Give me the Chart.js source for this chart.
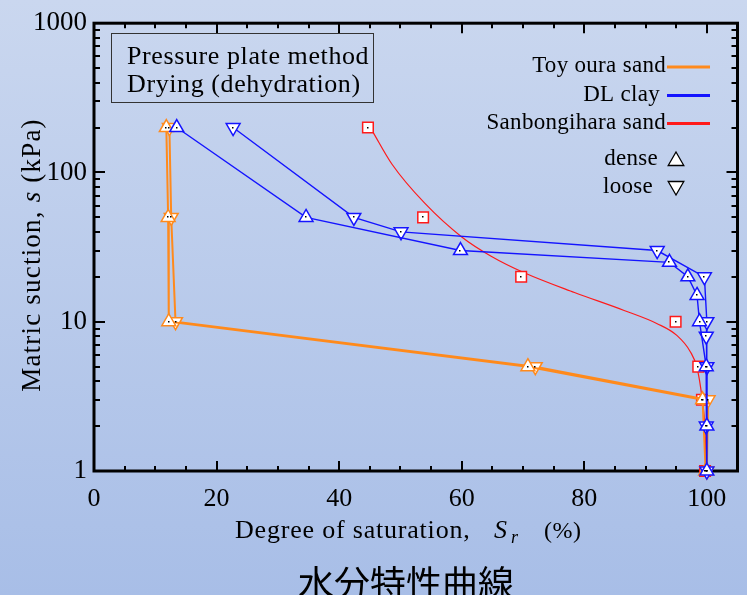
<!DOCTYPE html>
<html>
<head>
<meta charset="utf-8">
<script src="https://cdn.jsdelivr.net/npm/chart.js@4.4.1/dist/chart.umd.min.js"></script>
<style>
  html, body { margin: 0; padding: 0; }
  body {
    width: 747px;
    height: 595px;
    overflow: hidden;
    background: linear-gradient(to bottom, #cad7ef, #a8bee7);
  }
  canvas { display: block; }
</style>
</head>
<body>
<canvas id="chart" width="747" height="595"></canvas>
<script>
/* Soil-water characteristic curves (drying), Sr vs matric suction. */

// Toyoura sand
var srToyouraDense = [11.8, 12.1, 12.2, 70.8, 99.3, 99.8];
var sToyouraDense = [200, 50, 10, 5, 3, 1];
var srToyouraLoose = [12.3, 12.6, 13.3, 72.0, 100.2, 100];
var sToyouraLoose = [200, 50, 10, 5, 3, 1];

// DL clay
var srClayDense = [13.5, 34.6, 59.8, 93.9, 96.9, 98.4, 98.8, 99.9, 100, 100];
var sClayDense = [200, 50, 30, 25, 20, 15, 10, 5, 2, 1];
var srClayLoose = [22.7, 42.4, 50.1, 91.9, 99.6, 100, 99.9, 100, 99.9, 100];
var sClayLoose = [200, 50, 40, 30, 20, 10, 8, 5, 2, 1];

// Sanbongihara sand: measured points and fitted curve
var srSanbongiPoints = [44.7, 53.7, 69.7, 94.9, 98.6, 99.2, 99.7];
var sSanbongiPoints = [200, 50, 20, 10, 5, 3, 1];
var srSanbongiCurve = [45.4, 48.6, 54.0, 60.0, 64.8, 70.2, 78.4, 86.5, 91.9, 95.1, 97.3, 98.4, 99.2, 99.7, 99.9];
var sSanbongiCurve = [190, 114, 62, 37, 27.5, 21.3, 15.7, 11.9, 9.7, 8.1, 6.3, 4.9, 3.1, 1.87, 1];

var xTickLabels = [0, 20, 40, 60, 80, 100];
var yTickLabels = [1, 10, 100, 1000];
var legendNames = ["Toy oura sand", "DL clay", "Sanbongihara sand"];
var densityNames = ["dense", "loose"];
var noteLines = ["Pressure plate method", "Drying (dehydration)"];

var ORANGE = "#ff8a1c";
var BLUE = "#1414ff";
var RED = "#ff1a1a";
var SERIF = '"Liberation Serif", "Times New Roman", serif';

function pairs(xs, ys) {
  return xs.map(function (v, i) { return { x: v, y: ys[i] }; });
}

function markerSet(label, xs, ys, color, width, down) {
  return {
    label: label,
    data: pairs(xs, ys),
    showLine: true,
    borderColor: color,
    borderWidth: width,
    pointStyle: "triangle",
    rotation: down ? 180 : 0,
    pointRadius: 8,
    pointHoverRadius: 8,
    pointBackgroundColor: "#ffffff",
    pointBorderColor: color,
    pointBorderWidth: 1.5,
    clip: false
  };
}

var datasets = [
  markerSet("DL clay dense", srClayDense, sClayDense, BLUE, 1.4, false),
  markerSet("DL clay loose", srClayLoose, sClayLoose, BLUE, 1.4, true),
  markerSet("Toyoura dense", srToyouraDense, sToyouraDense, ORANGE, 2, false),
  markerSet("Toyoura loose", srToyouraLoose, sToyouraLoose, ORANGE, 2, true),
  {
    label: "Sanbongihara points",
    data: pairs(srSanbongiPoints, sSanbongiPoints),
    showLine: false,
    pointStyle: "rect",
    pointRadius: 7.5,
    pointHoverRadius: 7.5,
    pointBackgroundColor: "#ffffff",
    pointBorderColor: RED,
    pointBorderWidth: 1.5,
    clip: false
  },
  {
    label: "Sanbongihara curve",
    data: pairs(srSanbongiCurve, sSanbongiCurve),
    showLine: true,
    borderColor: RED,
    borderWidth: 1.2,
    pointRadius: 0,
    cubicInterpolationMode: "monotone",
    clip: false
  }
];

function triangle(ctx, x, y, r, down) {
  var h = down ? -1 : 1;
  ctx.beginPath();
  ctx.moveTo(x, y - h * r);
  ctx.lineTo(x + r * 0.866, y + h * r * 0.5);
  ctx.lineTo(x - r * 0.866, y + h * r * 0.5);
  ctx.closePath();
  ctx.fillStyle = "#ffffff";
  ctx.fill();
  ctx.strokeStyle = "#000000";
  ctx.lineWidth = 1.3;
  ctx.stroke();
}

var framePlugin = {
  id: "frame",
  beforeDatasetsDraw: function (chart) {
    var ctx = chart.ctx, a = chart.chartArea;
    var xs = chart.scales.x, ys = chart.scales.y;
    ctx.save();
    ctx.strokeStyle = "#000000";
    ctx.lineWidth = 2;
    ctx.beginPath();
    for (var v = 0; v <= 105; v += 5) {
      var px = Math.round(xs.getPixelForValue(v));
      var len = v % 20 === 0 ? 10 : 5;
      ctx.moveTo(px, a.bottom); ctx.lineTo(px, a.bottom - len);
      ctx.moveTo(px, a.top); ctx.lineTo(px, a.top + len);
    }
    for (var dec = 1; dec <= 1000; dec *= 10) {
      for (var m = 1; m <= 9; m++) {
        var val = m * dec;
        if (val > 1000) break;
        var py = Math.round(ys.getPixelForValue(val));
        var l = m === 1 ? 11 : 6;
        ctx.moveTo(a.left, py); ctx.lineTo(a.left + l, py);
        ctx.moveTo(a.right, py); ctx.lineTo(a.right - l, py);
      }
    }
    ctx.stroke();
    ctx.lineWidth = 3;
    ctx.strokeRect(a.left, a.top, a.right - a.left, a.bottom - a.top);
    ctx.restore();
  },
  afterDatasetsDraw: function (chart) {
    var ctx = chart.ctx;
    ctx.save();
    ctx.fillStyle = "#000000";
    chart.data.datasets.forEach(function (ds, i) {
      if (!ds.pointRadius) return;
      chart.getDatasetMeta(i).data.forEach(function (pt) {
        ctx.fillRect(Math.round(pt.x) - 1, Math.round(pt.y) - 1, 1.5, 1.5);
      });
    });
    ctx.restore();
  },
  afterDraw: function (chart) {
    var ctx = chart.ctx;
    ctx.save();

    // note box
    ctx.strokeStyle = "#333333";
    ctx.lineWidth = 1;
    ctx.strokeRect(111.5, 33.5, 262, 69);
    ctx.fillStyle = "#000000";
    ctx.font = "26px " + SERIF;
    ctx.letterSpacing = "0.6px";
    ctx.textAlign = "left";
    ctx.textBaseline = "alphabetic";
    ctx.fillText(noteLines[0], 127, 64);
    ctx.fillText(noteLines[1], 127, 92);

    // legend
    var colors = [ORANGE, BLUE, RED];
    var rowY = [67, 95.5, 123.5];
    ctx.font = "23px " + SERIF;
    ctx.letterSpacing = "0.3px";
    ctx.textAlign = "right";
    ctx.textBaseline = "middle";
    legendNames.forEach(function (name, i) {
      ctx.fillStyle = "#000000";
      ctx.fillText(name, i === 1 ? 660 : 666, rowY[i] - 1);
      ctx.strokeStyle = colors[i];
      ctx.lineWidth = 3;
      ctx.beginPath();
      ctx.moveTo(667, rowY[i]);
      ctx.lineTo(710, rowY[i]);
      ctx.stroke();
    });
    ctx.fillStyle = "#000000";
    ctx.fillText(densityNames[0], 658, 159);
    ctx.fillText(densityNames[1], 653, 187);
    triangle(ctx, 676, 161, 9, false);
    triangle(ctx, 676, 186, 9, true);

    // x axis title
    ctx.fillStyle = "#000000";
    ctx.textAlign = "left";
    ctx.textBaseline = "alphabetic";
    ctx.font = "26px " + SERIF;
    ctx.letterSpacing = "0.8px";
    ctx.fillText("Degree of saturation,", 235, 538);
    ctx.letterSpacing = "0px";
    ctx.font = "italic 26px " + SERIF;
    ctx.fillText("S", 494, 538);
    ctx.font = "italic 18px " + SERIF;
    ctx.fillText("r", 511, 543);
    ctx.font = "24px " + SERIF;
    ctx.letterSpacing = "0.5px";
    ctx.fillText("(%)", 544, 538);

    // y axis title
    ctx.translate(40, 255);
    ctx.rotate(-Math.PI / 2);
    ctx.letterSpacing = "1.2px";
    var partA = "Matric suction, ", partB = "s", partC = " (kPa)";
    ctx.font = "27px " + SERIF;
    var wA = ctx.measureText(partA).width, wC = ctx.measureText(partC).width;
    ctx.font = "italic 27px " + SERIF;
    var wB = ctx.measureText(partB).width;
    var x0 = -(wA + wB + wC) / 2;
    ctx.font = "27px " + SERIF;
    ctx.fillText(partA, x0, 0);
    ctx.font = "italic 27px " + SERIF;
    ctx.fillText(partB, x0 + wA, 0);
    ctx.font = "27px " + SERIF;
    ctx.fillText(partC, x0 + wA + wB, 0);
    ctx.setTransform(1, 0, 0, 1, 0, 0);
    ctx.letterSpacing = "0px";

    // caption
    ctx.font = '36px "Noto Sans CJK JP", "Noto Sans CJK SC", sans-serif';
    ctx.textAlign = "center";
    ctx.fillText("水分特性曲線", 406, 597);
    ctx.restore();
  }
};

new Chart(document.getElementById("chart"), {
  type: "scatter",
  data: { datasets: datasets },
  options: {
    responsive: false,
    devicePixelRatio: 1,
    animation: false,
    events: [],
    layout: { padding: { top: 17, right: 6, left: 0, bottom: 0 } },
    plugins: {
      legend: { display: false },
      tooltip: { enabled: false },
      title: { display: false }
    },
    scales: {
      x: {
        type: "linear",
        min: 0,
        max: 105,
        grid: { display: false, drawTicks: false },
        border: { display: false },
        afterBuildTicks: function (scale) {
          scale.ticks = xTickLabels.map(function (v) { return { value: v }; });
        },
        afterFit: function (scale) { scale.height = 124; },
        ticks: {
          color: "#000000",
          font: { family: SERIF, size: 26 },
          padding: 13,
          maxRotation: 0,
          autoSkip: false
        }
      },
      y: {
        type: "logarithmic",
        min: 1,
        max: 1000,
        grid: { display: false, drawTicks: false },
        border: { display: false },
        afterBuildTicks: function (scale) {
          scale.ticks = yTickLabels.map(function (v) { return { value: v }; });
        },
        afterFit: function (scale) { scale.width = 94; },
        ticks: {
          color: "#000000",
          font: { family: SERIF, size: 27 },
          padding: 7,
          autoSkip: false,
          callback: function (value) { return String(value); }
        }
      }
    }
  },
  plugins: [framePlugin]
});
</script>
</body>
</html>
